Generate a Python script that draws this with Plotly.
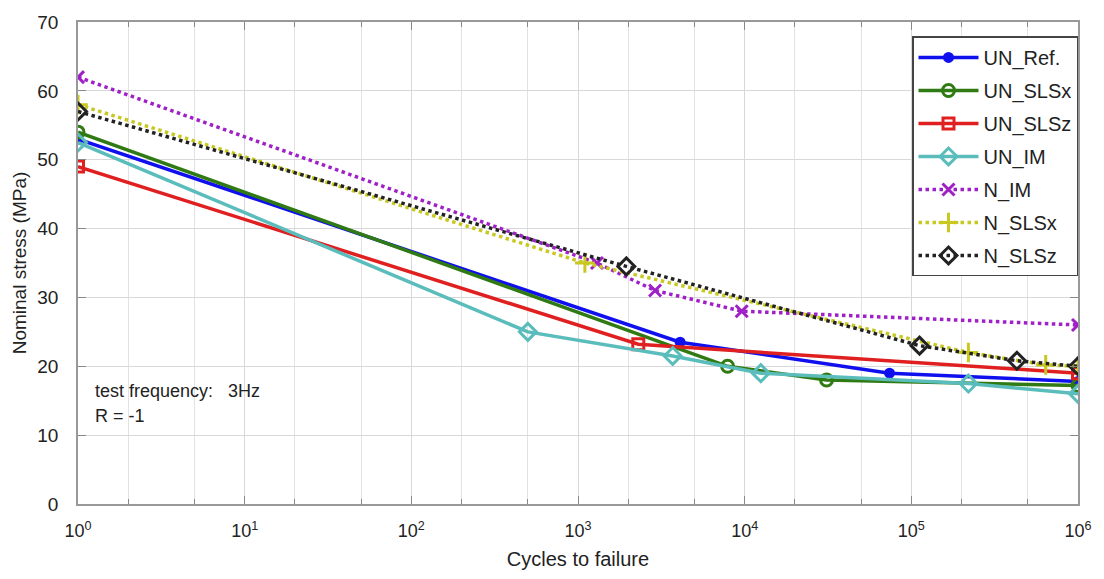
import plotly.graph_objects as go

un_ref_x = [1, 4100, 74000, 1000000]
un_ref_y = [53, 23.5, 19, 17.8]

un_slsx_x = [1, 7900, 31000, 1000000]
un_slsx_y = [54, 20, 18, 17.2]

un_slsz_x = [1, 2300, 1000000]
un_slsz_y = [49, 23.2, 19]

un_im_x = [1, 500, 3700, 12500, 220000, 1000000]
un_im_y = [52.5, 25, 21.5, 19, 17.5, 16]

n_im_x = [1, 1300, 2900, 9600, 1000000]
n_im_y = [62, 35, 31, 28, 26]

n_slsx_x = [1, 1100, 220000, 640000, 1000000]
n_slsx_y = [58, 35, 22, 20.2, 20]

n_slsz_x = [1, 1950, 112000, 430000, 1000000]
n_slsz_y = [57, 34.5, 23, 20.8, 20]

x_tickvals = [1, 10, 100, 1000, 10000, 100000, 1000000]
x_ticktext = ["10<sup>%d</sup>" % i for i in range(7)]
y_tickvals = [0, 10, 20, 30, 40, 50, 60, 70]

series = [
    ("UN_Ref.", un_ref_x, un_ref_y, "#1010ee", "solid", "circle", 8),
    ("UN_SLSx", un_slsx_x, un_slsx_y, "#2f7a12", "solid", "circle-open", 12),
    ("UN_SLSz", un_slsz_x, un_slsz_y, "#e02020", "solid", "square-open", 11),
    ("UN_IM", un_im_x, un_im_y, "#5bbcbc", "solid", "diamond-open", 13),
    ("N_IM", n_im_x, n_im_y, "#a020c8", "dot", "x-thin-open", 12),
    ("N_SLSx", n_slsx_x, n_slsx_y, "#c8c820", "dot", "cross-thin-open", 14),
    ("N_SLSz", n_slsz_x, n_slsz_y, "#222222", "dot", "diamond-open", 13),
]

fig = go.Figure()
for name, xs, ys, col, dash, sym, size in series:
    fig.add_trace(go.Scatter(
        x=xs, y=ys, name=name, mode="lines+markers", legendgroup=name,
        line=dict(color=col, width=3.5, dash=dash),
        marker=dict(symbol=sym, size=size, color=col,
                    line=dict(color=col, width=3)),
    ))

font = "Liberation Sans, Arial, sans-serif"
fig.update_layout(
    width=1104, height=579,
    margin=dict(l=78, r=21, t=22, b=72),
    paper_bgcolor="white", plot_bgcolor="white",
    font=dict(family=font, size=18, color="#222222"),
    showlegend=True,
    legend=dict(x=1.0, y=0.97, xanchor="right", yanchor="top",
                bordercolor="#444444", borderwidth=1.5, bgcolor="white",
                font=dict(size=20), tracegroupgap=4, itemwidth=60),
    xaxis=dict(type="log", range=[0, 6], tickvals=x_tickvals, ticktext=x_ticktext,
               showgrid=True, gridcolor="#d8d8d8", gridwidth=1,
               minor=dict(showgrid=True, gridcolor="#e2e2e2", ticks="inside",
                          ticklen=5, tickcolor="#888888"),
               ticks="inside", ticklen=8, tickcolor="#888888",
               showline=True, linecolor="#999999", linewidth=1.5, mirror="ticks",
               zeroline=False, ticklabelstandoff=10,
               title=dict(text="Cycles to failure", font=dict(size=20), standoff=12),
               tickfont=dict(size=18)),
    yaxis=dict(range=[0, 70], tickvals=y_tickvals,
               showgrid=True, gridcolor="#d8d8d8", gridwidth=1,
               ticks="inside", ticklen=8, tickcolor="#888888",
               showline=True, linecolor="#999999", linewidth=1.5, mirror="ticks",
               zeroline=False, ticklabelstandoff=14,
               title=dict(text="Nominal stress (MPa)", font=dict(size=19), standoff=6),
               tickfont=dict(size=19)),
    annotations=[
        dict(xref="paper", yref="paper", x=0.015, y=0.235, xanchor="left", yanchor="middle",
             text="test frequency:   3Hz", showarrow=False, font=dict(size=18)),
        dict(xref="paper", yref="paper", x=0.015, y=0.183, xanchor="left", yanchor="middle",
             text="R = -1", showarrow=False, font=dict(size=18)),
    ],
)

fig.write_html("out.html")
